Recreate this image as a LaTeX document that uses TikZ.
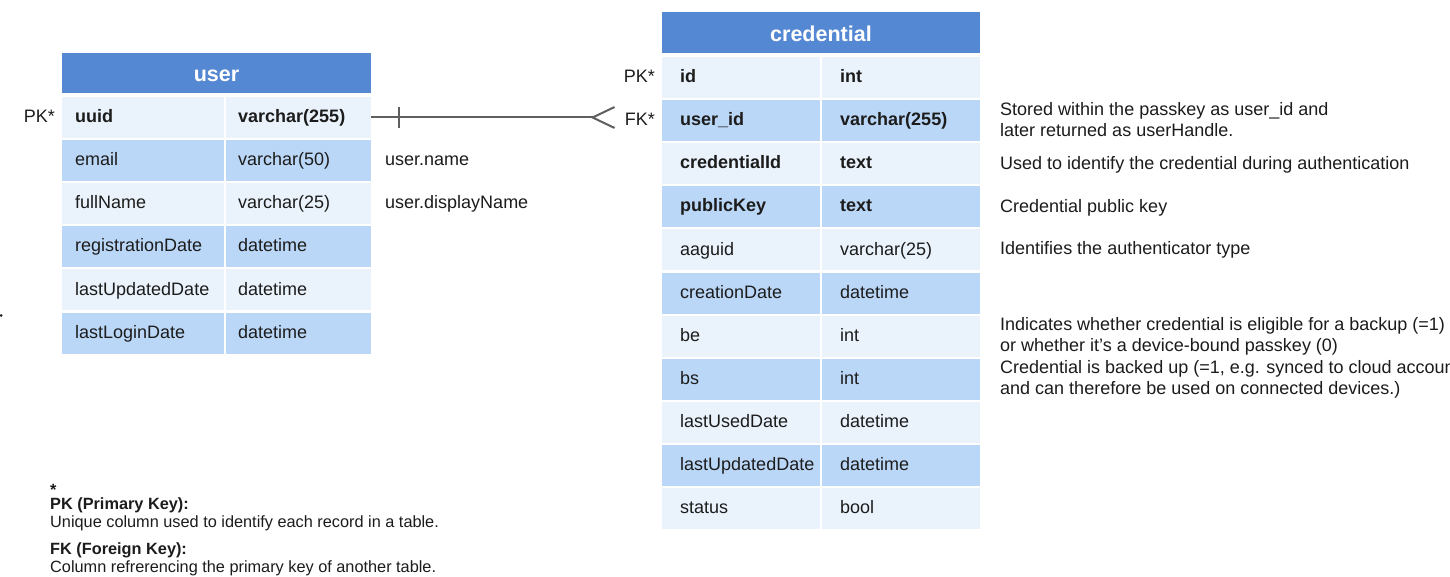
\documentclass[tikz,border=0pt]{standalone}
\usepackage{fontspec}
\setmainfont{Liberation Sans}
\definecolor{hdr}{RGB}{85,136,211}
\definecolor{rowA}{RGB}{234,243,252}
\definecolor{rowB}{RGB}{187,215,247}
\definecolor{ink}{RGB}{28,28,28}
\definecolor{wire}{RGB}{95,95,95}
\tikzset{
  cellbox/.style={inner sep=0pt, outer sep=0pt, anchor=north west, minimum height=41pt},
  headbox/.style={fill=hdr, inner sep=0pt, outer sep=0pt, anchor=north west,
    text=white, text height=18pt, text depth=0pt,
    font=\bfseries\fontsize{21.5}{24}\selectfont},
  celltxt/.style={anchor=west, inner sep=0pt, text=ink, text height=13.5pt, text depth=3.2pt,
    font=\fontsize{18}{21}\selectfont},
  note/.style={anchor=base west, inner sep=0pt, text=ink, font=\fontsize{18}{21}\selectfont},
  legend/.style={anchor=base west, inner sep=0pt, text=ink, font=\fontsize{16.3}{19}\selectfont},
  legendhead/.style={legend, font=\bfseries\fontsize{16.3}{19}\selectfont},
  wireline/.style={draw=wire, line width=2pt},
}
\begin{document}
\begin{tikzpicture}[x=1pt,y=-1pt]
\useasboundingbox (0,0) rectangle (1450,577);
\clip (0,0) rectangle (1450,577);
\fill[white] (0,0) rectangle (1450,577);

% ---------- table: user ----------
\node[headbox, minimum width=309pt, minimum height=40pt] (user) at (62,53) {user};
\foreach [count=\i from 0] \n/\t/\b in {
    uuid/varchar(255)/1,
    email/varchar(50)/0,
    fullName/varchar(25)/0,
    registrationDate/datetime/0,
    lastUpdatedDate/datetime/0,
    lastLoginDate/datetime/0}{
  \pgfmathsetmacro\ty{97+43.1*\i}
  \ifodd\i \def\rc{rowB}\else\def\rc{rowA}\fi
  \node[cellbox, fill=\rc, minimum width=162pt] (u\i n) at (62,\ty) {};
  \node[cellbox, fill=\rc, minimum width=145pt] (u\i t) at (226,\ty) {};
  \node[celltxt] (u\i nl) at ([xshift=13pt]u\i n.west) {\ifnum\b=1 \bfseries\fi\n};
  \node[celltxt] (u\i tl) at ([xshift=12pt]u\i t.west) {\ifnum\b=1 \bfseries\fi\t};
}
\node[celltxt, anchor=east] (upk) at ([xshift=-7pt]u0n.west) {PK*};
\node[celltxt] (uname) at ([xshift=14pt]u1t.east) {user.name};
\node[celltxt] (udisp) at ([xshift=14pt]u2t.east) {user.displayName};

% ---------- table: credential ----------
\node[headbox, minimum width=318pt, minimum height=41pt] (cred) at (662,12) {credential};
\foreach [count=\i from 0] \n/\t/\b in {
    id/int/1,
    user\_id/varchar(255)/1,
    credentialId/text/1,
    publicKey/text/1,
    aaguid/varchar(25)/0,
    creationDate/datetime/0,
    be/int/0,
    bs/int/0,
    lastUsedDate/datetime/0,
    lastUpdatedDate/datetime/0,
    status/bool/0}{
  \pgfmathsetmacro\ty{57+43.1*\i}
  \ifodd\i \def\rc{rowB}\else\def\rc{rowA}\fi
  \node[cellbox, fill=\rc, minimum width=158pt] (c\i n) at (662,\ty) {};
  \node[cellbox, fill=\rc, minimum width=158pt] (c\i t) at (822,\ty) {};
  \node[celltxt] (c\i nl) at ([xshift=18pt]c\i n.west) {\ifnum\b=1 \bfseries\fi\n};
  \node[celltxt] (c\i tl) at ([xshift=18pt]c\i t.west) {\ifnum\b=1 \bfseries\fi\t};
}
\node[celltxt, anchor=east] (cpk) at ([xshift=-7pt]c0n.west) {PK*};
\node[celltxt, anchor=east] (fk) at ([xshift=-7pt]c1n.west) {FK*};

% ---------- one-to-many relation: user.uuid -> credential.user_id ----------
\path ([xshift=-10pt]fk.west) coordinate (cp0);
\coordinate (cp) at (cp0 |- u0t.east);
\coordinate (apex) at ([xshift=-22pt]cp);
\coordinate (tk) at ([xshift=28pt]u0t.east);
\draw[wireline] (u0t.east) -- (apex);
\draw[wireline] ([yshift=10.5pt]tk) -- ([yshift=-10.5pt]tk);
\draw[wireline] ([yshift=10.5pt]cp) -- (apex) -- ([yshift=-10.5pt]cp);

% ---------- column notes ----------
\node[note] (n1a) at (1000,115.2) {Stored within the passkey as user\_id and};
\node[note] (n1b) at (1000,136.2) {later returned as userHandle.};
\node[note] (n2) at (1000,169.2) {Used to identify the credential during authentication};
\node[note] (n3) at (1000,212.4) {Credential public key};
\node[note] (n4) at (1000,254.6) {Identifies the authenticator type};
\node[note] (n5a) at (1000,330.2) {Indicates whether credential is eligible for a backup (=1)};
\node[note] (n5b) at (1000,351.4) {or whether it’s a device-bound passkey (0)};
\node[note] (n6a) at (1000,373) {Credential is backed up (=1, e.g. synced to cloud account};
\node[note] (n6b) at (1000,394.2) {and can therefore be used on connected devices.)};

% ---------- key legend ----------
\node[legendhead] (lg0) at (50,495) {*};
\node[legendhead] (lg1) at (50,509.5) {PK (Primary Key):};
\node[legend] (lg2) at (50,527.5) {Unique column used to identify each record in a table.};
\node[legendhead] (lg3) at (50,554.5) {FK (Foreign Key):};
\node[legend] (lg4) at (50,572.5) {Column refrerencing the primary key of another table.};

% small mark at the left edge
\fill[ink] (1.2,315.5) circle (1.5pt);
\end{tikzpicture}
\end{document}
